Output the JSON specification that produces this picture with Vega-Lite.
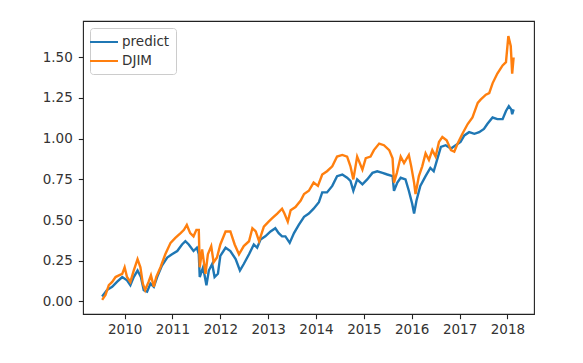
{
  "$schema": "https://vega.github.io/schema/vega-lite/v6.json",
  "width": 451,
  "height": 293,
  "autosize": {"type": "none"},
  "padding": {"left": 83, "top": 21, "right": 49, "bottom": 49},
  "background": "white",
  "config": {
    "view": {"stroke": "#222", "strokeWidth": 1.1},
    "font": "DejaVu Sans"
  },
  "data": {"values": [
    {"s":"predict","t":2009.53,"v":0.03},{"s":"predict","t":2009.63,"v":0.07},{"s":"predict","t":2009.74,"v":0.09},{"s":"predict","t":2009.84,"v":0.12},{"s":"predict","t":2009.95,"v":0.15},{"s":"predict","t":2010.05,"v":0.13},{"s":"predict","t":2010.12,"v":0.10},{"s":"predict","t":2010.19,"v":0.15},{"s":"predict","t":2010.27,"v":0.19},{"s":"predict","t":2010.34,"v":0.15},{"s":"predict","t":2010.40,"v":0.07},{"s":"predict","t":2010.47,"v":0.06},{"s":"predict","t":2010.54,"v":0.11},{"s":"predict","t":2010.61,"v":0.09},{"s":"predict","t":2010.68,"v":0.15},{"s":"predict","t":2010.78,"v":0.22},{"s":"predict","t":2010.89,"v":0.27},{"s":"predict","t":2010.99,"v":0.29},{"s":"predict","t":2011.10,"v":0.31},{"s":"predict","t":2011.20,"v":0.35},{"s":"predict","t":2011.27,"v":0.37},{"s":"predict","t":2011.34,"v":0.35},{"s":"predict","t":2011.44,"v":0.31},{"s":"predict","t":2011.51,"v":0.33},{"s":"predict","t":2011.55,"v":0.29},{"s":"predict","t":2011.57,"v":0.15},{"s":"predict","t":2011.64,"v":0.21},{"s":"predict","t":2011.71,"v":0.10},{"s":"predict","t":2011.76,"v":0.19},{"s":"predict","t":2011.83,"v":0.23},{"s":"predict","t":2011.88,"v":0.15},{"s":"predict","t":2011.95,"v":0.17},{"s":"predict","t":2012.00,"v":0.28},{"s":"predict","t":2012.11,"v":0.33},{"s":"predict","t":2012.21,"v":0.31},{"s":"predict","t":2012.32,"v":0.26},{"s":"predict","t":2012.41,"v":0.19},{"s":"predict","t":2012.49,"v":0.23},{"s":"predict","t":2012.60,"v":0.29},{"s":"predict","t":2012.70,"v":0.35},{"s":"predict","t":2012.77,"v":0.33},{"s":"predict","t":2012.84,"v":0.38},{"s":"predict","t":2012.94,"v":0.40},{"s":"predict","t":2013.05,"v":0.43},{"s":"predict","t":2013.15,"v":0.45},{"s":"predict","t":2013.22,"v":0.42},{"s":"predict","t":2013.29,"v":0.40},{"s":"predict","t":2013.36,"v":0.40},{"s":"predict","t":2013.45,"v":0.36},{"s":"predict","t":2013.54,"v":0.42},{"s":"predict","t":2013.64,"v":0.47},{"s":"predict","t":2013.75,"v":0.52},{"s":"predict","t":2013.85,"v":0.54},{"s":"predict","t":2013.95,"v":0.57},{"s":"predict","t":2014.06,"v":0.61},{"s":"predict","t":2014.13,"v":0.67},{"s":"predict","t":2014.23,"v":0.67},{"s":"predict","t":2014.34,"v":0.71},{"s":"predict","t":2014.44,"v":0.77},{"s":"predict","t":2014.55,"v":0.78},{"s":"predict","t":2014.65,"v":0.76},{"s":"predict","t":2014.72,"v":0.74},{"s":"predict","t":2014.78,"v":0.68},{"s":"predict","t":2014.86,"v":0.75},{"s":"predict","t":2014.97,"v":0.72},{"s":"predict","t":2015.07,"v":0.75},{"s":"predict","t":2015.18,"v":0.79},{"s":"predict","t":2015.28,"v":0.80},{"s":"predict","t":2015.39,"v":0.79},{"s":"predict","t":2015.49,"v":0.78},{"s":"predict","t":2015.60,"v":0.77},{"s":"predict","t":2015.63,"v":0.68},{"s":"predict","t":2015.70,"v":0.73},{"s":"predict","t":2015.77,"v":0.76},{"s":"predict","t":2015.87,"v":0.75},{"s":"predict","t":2015.94,"v":0.68},{"s":"predict","t":2016.01,"v":0.60},{"s":"predict","t":2016.05,"v":0.54},{"s":"predict","t":2016.10,"v":0.62},{"s":"predict","t":2016.18,"v":0.71},{"s":"predict","t":2016.29,"v":0.77},{"s":"predict","t":2016.39,"v":0.82},{"s":"predict","t":2016.46,"v":0.80},{"s":"predict","t":2016.53,"v":0.87},{"s":"predict","t":2016.61,"v":0.95},{"s":"predict","t":2016.71,"v":0.96},{"s":"predict","t":2016.82,"v":0.94},{"s":"predict","t":2016.92,"v":0.96},{"s":"predict","t":2017.02,"v":0.98},{"s":"predict","t":2017.10,"v":1.02},{"s":"predict","t":2017.20,"v":1.04},{"s":"predict","t":2017.31,"v":1.03},{"s":"predict","t":2017.41,"v":1.04},{"s":"predict","t":2017.51,"v":1.06},{"s":"predict","t":2017.58,"v":1.09},{"s":"predict","t":2017.69,"v":1.13},{"s":"predict","t":2017.79,"v":1.12},{"s":"predict","t":2017.90,"v":1.12},{"s":"predict","t":2017.97,"v":1.17},{"s":"predict","t":2018.03,"v":1.20},{"s":"predict","t":2018.08,"v":1.18},{"s":"predict","t":2018.10,"v":1.15},{"s":"predict","t":2018.13,"v":1.18},
    {"s":"DJIM","t":2009.53,"v":0.01},{"s":"DJIM","t":2009.60,"v":0.04},{"s":"DJIM","t":2009.67,"v":0.10},{"s":"DJIM","t":2009.74,"v":0.12},{"s":"DJIM","t":2009.81,"v":0.15},{"s":"DJIM","t":2009.88,"v":0.16},{"s":"DJIM","t":2009.95,"v":0.17},{"s":"DJIM","t":2010.00,"v":0.21},{"s":"DJIM","t":2010.05,"v":0.15},{"s":"DJIM","t":2010.12,"v":0.12},{"s":"DJIM","t":2010.19,"v":0.19},{"s":"DJIM","t":2010.27,"v":0.26},{"s":"DJIM","t":2010.33,"v":0.21},{"s":"DJIM","t":2010.38,"v":0.11},{"s":"DJIM","t":2010.43,"v":0.07},{"s":"DJIM","t":2010.50,"v":0.12},{"s":"DJIM","t":2010.55,"v":0.16},{"s":"DJIM","t":2010.61,"v":0.09},{"s":"DJIM","t":2010.66,"v":0.15},{"s":"DJIM","t":2010.75,"v":0.21},{"s":"DJIM","t":2010.85,"v":0.29},{"s":"DJIM","t":2010.96,"v":0.36},{"s":"DJIM","t":2011.06,"v":0.39},{"s":"DJIM","t":2011.17,"v":0.42},{"s":"DJIM","t":2011.24,"v":0.44},{"s":"DJIM","t":2011.30,"v":0.47},{"s":"DJIM","t":2011.37,"v":0.42},{"s":"DJIM","t":2011.44,"v":0.40},{"s":"DJIM","t":2011.50,"v":0.44},{"s":"DJIM","t":2011.55,"v":0.44},{"s":"DJIM","t":2011.57,"v":0.21},{"s":"DJIM","t":2011.62,"v":0.32},{"s":"DJIM","t":2011.69,"v":0.17},{"s":"DJIM","t":2011.74,"v":0.29},{"s":"DJIM","t":2011.81,"v":0.34},{"s":"DJIM","t":2011.86,"v":0.24},{"s":"DJIM","t":2011.93,"v":0.27},{"s":"DJIM","t":2012.00,"v":0.35},{"s":"DJIM","t":2012.11,"v":0.43},{"s":"DJIM","t":2012.21,"v":0.43},{"s":"DJIM","t":2012.30,"v":0.35},{"s":"DJIM","t":2012.39,"v":0.29},{"s":"DJIM","t":2012.49,"v":0.34},{"s":"DJIM","t":2012.60,"v":0.37},{"s":"DJIM","t":2012.67,"v":0.45},{"s":"DJIM","t":2012.74,"v":0.43},{"s":"DJIM","t":2012.81,"v":0.37},{"s":"DJIM","t":2012.91,"v":0.46},{"s":"DJIM","t":2013.01,"v":0.49},{"s":"DJIM","t":2013.08,"v":0.51},{"s":"DJIM","t":2013.19,"v":0.54},{"s":"DJIM","t":2013.29,"v":0.57},{"s":"DJIM","t":2013.34,"v":0.54},{"s":"DJIM","t":2013.41,"v":0.49},{"s":"DJIM","t":2013.47,"v":0.56},{"s":"DJIM","t":2013.57,"v":0.58},{"s":"DJIM","t":2013.68,"v":0.62},{"s":"DJIM","t":2013.75,"v":0.66},{"s":"DJIM","t":2013.85,"v":0.68},{"s":"DJIM","t":2013.95,"v":0.73},{"s":"DJIM","t":2014.04,"v":0.71},{"s":"DJIM","t":2014.13,"v":0.78},{"s":"DJIM","t":2014.23,"v":0.80},{"s":"DJIM","t":2014.34,"v":0.83},{"s":"DJIM","t":2014.44,"v":0.89},{"s":"DJIM","t":2014.55,"v":0.90},{"s":"DJIM","t":2014.65,"v":0.89},{"s":"DJIM","t":2014.72,"v":0.83},{"s":"DJIM","t":2014.78,"v":0.75},{"s":"DJIM","t":2014.86,"v":0.89},{"s":"DJIM","t":2014.97,"v":0.81},{"s":"DJIM","t":2015.04,"v":0.88},{"s":"DJIM","t":2015.14,"v":0.89},{"s":"DJIM","t":2015.21,"v":0.93},{"s":"DJIM","t":2015.32,"v":0.97},{"s":"DJIM","t":2015.42,"v":0.96},{"s":"DJIM","t":2015.53,"v":0.93},{"s":"DJIM","t":2015.60,"v":0.88},{"s":"DJIM","t":2015.63,"v":0.73},{"s":"DJIM","t":2015.69,"v":0.79},{"s":"DJIM","t":2015.77,"v":0.89},{"s":"DJIM","t":2015.84,"v":0.85},{"s":"DJIM","t":2015.94,"v":0.90},{"s":"DJIM","t":2015.99,"v":0.83},{"s":"DJIM","t":2016.05,"v":0.73},{"s":"DJIM","t":2016.08,"v":0.66},{"s":"DJIM","t":2016.15,"v":0.77},{"s":"DJIM","t":2016.22,"v":0.83},{"s":"DJIM","t":2016.29,"v":0.91},{"s":"DJIM","t":2016.36,"v":0.87},{"s":"DJIM","t":2016.43,"v":0.93},{"s":"DJIM","t":2016.50,"v":0.89},{"s":"DJIM","t":2016.57,"v":0.98},{"s":"DJIM","t":2016.64,"v":1.01},{"s":"DJIM","t":2016.73,"v":0.99},{"s":"DJIM","t":2016.82,"v":0.93},{"s":"DJIM","t":2016.89,"v":0.92},{"s":"DJIM","t":2016.96,"v":0.97},{"s":"DJIM","t":2017.06,"v":1.03},{"s":"DJIM","t":2017.17,"v":1.09},{"s":"DJIM","t":2017.27,"v":1.13},{"s":"DJIM","t":2017.38,"v":1.22},{"s":"DJIM","t":2017.44,"v":1.24},{"s":"DJIM","t":2017.55,"v":1.27},{"s":"DJIM","t":2017.62,"v":1.28},{"s":"DJIM","t":2017.69,"v":1.34},{"s":"DJIM","t":2017.79,"v":1.40},{"s":"DJIM","t":2017.90,"v":1.45},{"s":"DJIM","t":2017.97,"v":1.47},{"s":"DJIM","t":2018.02,"v":1.63},{"s":"DJIM","t":2018.07,"v":1.57},{"s":"DJIM","t":2018.10,"v":1.40},{"s":"DJIM","t":2018.13,"v":1.50}
  ]},
  "mark": {"type": "line", "strokeWidth": 2.4, "clip": true},
  "encoding": {
    "x": {
      "field": "t", "type": "quantitative",
      "scale": {"domain": [2009.13, 2018.556], "nice": false, "zero": false},
      "axis": {
        "title": null, "grid": false, "domain": false,
        "values": [2010, 2011, 2012, 2013, 2014, 2015, 2016, 2017, 2018],
        "format": "d", "labelFont": "DejaVu Sans", "labelFontSize": 13.5,
        "labelColor": "#333", "tickColor": "#222", "tickSize": 4.7, "tickWidth": 1.1,
        "labelPadding": 4, "labelFlush": false, "labelOverlap": false
      }
    },
    "y": {
      "field": "v", "type": "quantitative",
      "scale": {"domain": [-0.077, 1.723], "nice": false, "zero": false},
      "axis": {
        "title": null, "grid": false, "domain": false,
        "values": [0, 0.25, 0.5, 0.75, 1, 1.25, 1.5],
        "format": ".2f", "labelFont": "DejaVu Sans", "labelFontSize": 13.5,
        "labelColor": "#333", "tickColor": "#222", "tickSize": 4.7, "tickWidth": 1.1,
        "labelPadding": 6, "labelFlush": false, "labelOverlap": false
      }
    },
    "color": {
      "field": "s", "type": "nominal",
      "scale": {"domain": ["predict", "DJIM"], "range": ["#1f77b4", "#ff7f0e"]},
      "legend": {
        "title": null, "orient": "top-left", "offset": 7,
        "padding": 6, "strokeColor": "#cccccc", "fillColor": "white", "cornerRadius": 3,
        "symbolType": "M-2,0H2", "symbolSize": 196, "symbolStrokeWidth": 2,
        "labelFont": "DejaVu Sans", "labelFontSize": 13.5, "labelColor": "#333",
        "labelOffset": 10, "rowPadding": 4
      }
    },
    "order": {"field": "t", "type": "quantitative"}
  }
}
